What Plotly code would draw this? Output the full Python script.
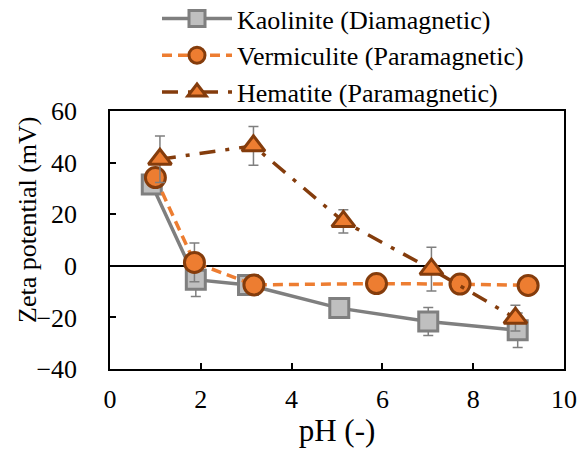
import plotly.graph_objects as go

# Data
ph_kaolinite = [0.92, 1.89, 3.04, 5.05, 7.01, 8.98]
zeta_kaolinite = [31.5, -5.4, -7.4, -16.4, -21.6, -25.0]
err_kaolinite = [1.5, 6.5, 1.5, 1.5, 5.4, 6.7]

ph_vermiculite = [1.00, 1.86, 3.17, 5.87, 7.71, 9.21]
zeta_vermiculite = [34.2, 1.3, -7.4, -6.9, -7.1, -7.6]
err_vermiculite = [1.0, 7.5, 1.0, 1.0, 1.0, 1.0]

ph_hematite = [1.10, 3.16, 5.14, 7.08, 8.93]
zeta_hematite = [41.3, 46.5, 17.2, -1.3, -20.3]
err_hematite = [9.0, 7.5, 4.5, 8.5, 5.0]

names = ["Kaolinite (Diamagnetic)", "Vermiculite (Paramagnetic)", "Hematite (Paramagnetic)"]
x_ticks = [0, 2, 4, 6, 8, 10]
y_ticks = [-40, -20, 0, 20, 40, 60]
x_title = "pH (-)"
y_title = "Zeta potential (mV)"

FONT = "Liberation Serif"
FS = 26
GRAY = "#7F7F7F"
ORANGE = "#ED7D31"
BROWN = "#843C0C"

fig = go.Figure()
fig.add_trace(go.Scatter(
    x=ph_kaolinite, y=zeta_kaolinite, name=names[0], legendgroup="k",
    mode="lines+markers",
    line=dict(color=GRAY, width=3.5),
    marker=dict(symbol="square", size=19, color="#BFBFBF", line=dict(color=GRAY, width=3)),
    error_y=dict(type="data", array=err_kaolinite, color=GRAY, thickness=1.5, width=5),
))
fig.add_trace(go.Scatter(
    x=ph_vermiculite, y=zeta_vermiculite, name=names[1], legendgroup="v",
    mode="lines+markers",
    line=dict(color=ORANGE, width=3.5, dash="10px,6px"),
    marker=dict(symbol="circle", size=20, color=ORANGE, line=dict(color=BROWN, width=3)),
    error_y=dict(type="data", array=err_vermiculite, color=GRAY, thickness=1.5, width=5),
))
fig.add_trace(go.Scatter(
    x=ph_hematite, y=zeta_hematite, name=names[2], legendgroup="h",
    mode="lines+markers",
    line=dict(color=BROWN, width=3.5, dash="16px,10px,4px,10px"),
    marker=dict(symbol="triangle-up", size=20, color=ORANGE, line=dict(color=BROWN, width=3)),
    error_y=dict(type="data", array=err_hematite, color=GRAY, thickness=1.5, width=5),
))

fig.update_layout(
    width=583, height=450,
    margin=dict(l=110, r=19, t=111, b=81, autoexpand=False),
    paper_bgcolor="white", plot_bgcolor="white",
    font=dict(family=FONT, size=FS, color="black"),
    showlegend=True,
    legend=dict(
        xref="container", yref="container",
        x=157 / 583, y=1 - 116 / 450, xanchor="left", yanchor="bottom",
        bgcolor="rgba(0,0,0,0)", font=dict(family=FONT, size=FS),
        tracegroupgap=0, itemwidth=70,
    ),
    xaxis=dict(
        range=[0, 10], tickvals=x_ticks, ticks="inside", ticklen=6, tickwidth=1.5,
        tickcolor="black", showline=True, linecolor="black", linewidth=1.5,
        mirror=True, showgrid=False, zeroline=False, automargin=True,
        title=dict(text=x_title, standoff=6),
        ticklabelstandoff=6,
    ),
    yaxis=dict(
        range=[-40, 60], tickvals=y_ticks, ticks="inside", ticklen=6, tickwidth=1.5,
        tickcolor="black", showline=True, linecolor="black", linewidth=1.5,
        mirror=True, showgrid=False, zeroline=True, zerolinecolor="black",
        zerolinewidth=1.5, automargin=False,
        ticklabelstandoff=26,
    ),
    annotations=[dict(
        text=y_title, textangle=-90, showarrow=False,
        xref="paper", yref="paper", x=(27 - 110) / 454, y=(369 - 220) / 258,
        xanchor="center", yanchor="middle", font=dict(family=FONT, size=FS),
    )],
)

fig.write_html("out.html", post_script="document.body.style.margin='0';",
               config={"displayModeBar": False})
